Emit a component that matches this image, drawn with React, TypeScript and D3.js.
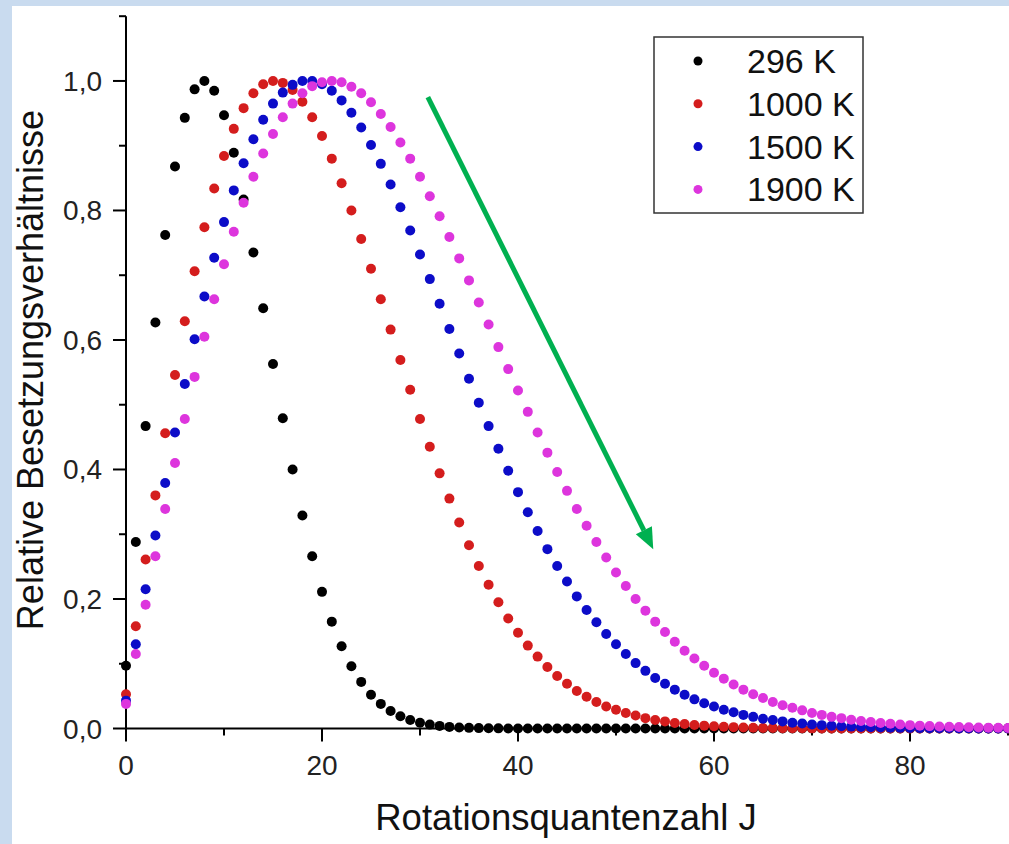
import * as d3 from "d3";
import { useEffect, useRef } from "react";

// Rotationsquantenzahl J = 0 .. 90
const jValues = d3.range(0, 91);

// relative populations, one value per J
const pop296 = [
  0.097, 0.288, 0.467, 0.627, 0.762, 0.868, 0.943, 0.987, 1.0, 0.985,
  0.947, 0.889, 0.817, 0.735, 0.649, 0.563, 0.479, 0.4, 0.329, 0.266,
  0.211, 0.165, 0.127, 0.096, 0.072, 0.052, 0.038, 0.027, 0.019, 0.013,
  0.009, 0.006, 0.004, 0.0025, 0.0016, 0.001, 0.0006, 0.0004, 0.0002, 0.0001,
  0, 0, 0, 0, 0, 0, 0, 0, 0, 0,
  0, 0, 0, 0, 0, 0, 0, 0, 0, 0,
  0, 0, 0, 0, 0, 0, 0, 0, 0, 0,
  0, 0, 0, 0, 0, 0, 0, 0, 0, 0,
  0, 0, 0, 0, 0, 0, 0, 0, 0, 0, 0,
];

const pop1000 = [
  0.053, 0.158, 0.261, 0.36, 0.456, 0.546, 0.629, 0.706, 0.774, 0.834,
  0.884, 0.926, 0.958, 0.981, 0.995, 1.0, 0.997, 0.986, 0.968, 0.944,
  0.915, 0.88, 0.842, 0.8, 0.756, 0.71, 0.663, 0.616, 0.569, 0.523,
  0.478, 0.435, 0.394, 0.355, 0.318, 0.283, 0.251, 0.222, 0.195, 0.17,
  0.148, 0.128, 0.111, 0.095, 0.081, 0.069, 0.058, 0.049, 0.041, 0.034,
  0.029, 0.024, 0.02, 0.016, 0.013, 0.011, 0.0086, 0.0069, 0.0055, 0.0044,
  0.0035, 0.0027, 0.0021, 0.0016, 0.0012, 0.0009, 0.0007, 0.0005, 0.0004, 0.0003,
  0.0002, 0.0001, 0.0001, 0, 0, 0, 0, 0, 0, 0,
  0, 0, 0, 0, 0, 0, 0, 0, 0, 0, 0,
];

const pop1500 = [
  0.043, 0.13, 0.215, 0.298, 0.379, 0.457, 0.532, 0.601, 0.667, 0.727,
  0.782, 0.831, 0.873, 0.91, 0.94, 0.965, 0.982, 0.994, 1.0, 1.0,
  0.995, 0.985, 0.97, 0.951, 0.928, 0.901, 0.872, 0.84, 0.805, 0.769,
  0.732, 0.694, 0.656, 0.617, 0.579, 0.54, 0.503, 0.467, 0.432, 0.398,
  0.365, 0.334, 0.305, 0.277, 0.251, 0.227, 0.204, 0.183, 0.164, 0.146,
  0.13, 0.115, 0.101, 0.089, 0.078, 0.069, 0.06, 0.052, 0.045, 0.039,
  0.034, 0.029, 0.025, 0.021, 0.018, 0.015, 0.013, 0.011, 0.009, 0.0076,
  0.0063, 0.0052, 0.0043, 0.0035, 0.0029, 0.0024, 0.0019, 0.0015, 0.0012, 0.001,
  0.0008, 0.0006, 0.0005, 0.0004, 0.0003, 0.0002, 0.0002, 0.0001, 0.0001, 0.0001, 0.0001,
];

const pop1900 = [
  0.038, 0.115, 0.191, 0.266, 0.339, 0.41, 0.478, 0.543, 0.605, 0.663,
  0.717, 0.767, 0.812, 0.852, 0.888, 0.918, 0.944, 0.965, 0.981, 0.992,
  0.998, 1.0, 0.998, 0.991, 0.981, 0.967, 0.949, 0.929, 0.905, 0.88,
  0.852, 0.822, 0.791, 0.759, 0.726, 0.692, 0.658, 0.624, 0.589, 0.555,
  0.522, 0.489, 0.457, 0.426, 0.396, 0.367, 0.339, 0.313, 0.288, 0.264,
  0.241, 0.22, 0.2, 0.182, 0.165, 0.149, 0.134, 0.12, 0.108, 0.097,
  0.086, 0.077, 0.068, 0.06, 0.053, 0.047, 0.041, 0.036, 0.032, 0.028,
  0.024, 0.021, 0.018, 0.016, 0.0135, 0.0116, 0.0099, 0.0085, 0.0072, 0.0061,
  0.0052, 0.0044, 0.0037, 0.0031, 0.0026, 0.0022, 0.0018, 0.0015, 0.0013, 0.0011, 0.0009,
];

const seriesNames = ["296 K", "1000 K", "1500 K", "1900 K"];
const seriesValues = [pop296, pop1000, pop1500, pop1900];
const seriesColors = ["#000000", "#d41d1d", "#0c0cc8", "#dd35dd"];

const xTicks = [0, 20, 40, 60, 80];
const xTickLabels = ["0", "20", "40", "60", "80"];
const xMinorTicks = [10, 30, 50, 70, 90];
const yTicks = [0, 0.2, 0.4, 0.6, 0.8, 1.0];
const yTickLabels = ["0,0", "0,2", "0,4", "0,6", "0,8", "1,0"];
const yMinorTicks = [0.1, 0.3, 0.5, 0.7, 0.9, 1.1];

// green arrow, in data units (J, value)
const arrowFrom = [30.8, 0.975];
const arrowTo = [53.8, 0.277];

const width = 1009;
const height = 844;
const font = "'Liberation Sans', Arial, sans-serif";

export default function App() {
  const svgRef = useRef<SVGSVGElement>(null);

  useEffect(() => {
    const svg = d3.select(svgRef.current);
    svg.selectAll("*").remove();

    const xScale = d3.scaleLinear().domain([0, 90]).range([126, 1008]);
    const yScale = d3.scaleLinear().domain([0, 1.1]).range([728.5, 16.2]);

    // light blue frame
    svg.append("rect").attr("width", width).attr("height", height).attr("fill", "#c9dbef");
    svg.append("rect").attr("x", 12).attr("y", 6).attr("width", width - 12).attr("height", height - 6).attr("fill", "#ffffff");

    // axes
    const axes = svg.append("g").attr("stroke", "#000").attr("stroke-width", 2);
    axes.append("line").attr("x1", xScale(0)).attr("x2", xScale(0)).attr("y1", yScale(0) + 1).attr("y2", yScale(1.1));
    axes.append("line").attr("x1", xScale(0) - 1).attr("x2", width).attr("y1", yScale(0)).attr("y2", yScale(0));

    axes.selectAll(".yMajor").data(yTicks).enter().append("line")
      .attr("x1", xScale(0) - 13).attr("x2", xScale(0))
      .attr("y1", (d) => yScale(d)).attr("y2", (d) => yScale(d));
    axes.selectAll(".yMinor").data(yMinorTicks).enter().append("line")
      .attr("x1", xScale(0) - 7).attr("x2", xScale(0))
      .attr("y1", (d) => yScale(d)).attr("y2", (d) => yScale(d));
    axes.selectAll(".xMajor").data(xTicks).enter().append("line")
      .attr("x1", (d) => xScale(d)).attr("x2", (d) => xScale(d))
      .attr("y1", yScale(0)).attr("y2", yScale(0) + 13);
    axes.selectAll(".xMinor").data(xMinorTicks).enter().append("line")
      .attr("x1", (d) => xScale(d)).attr("x2", (d) => xScale(d))
      .attr("y1", yScale(0)).attr("y2", yScale(0) + 7);

    svg.selectAll(".yLabel").data(yTicks).enter().append("text")
      .attr("x", 102).attr("y", (d) => yScale(d) + 10)
      .attr("text-anchor", "end").attr("font-family", font).attr("font-size", 28).attr("fill", "#222")
      .text((d, i) => yTickLabels[i]);
    svg.selectAll(".xLabel").data(xTicks).enter().append("text")
      .attr("x", (d) => xScale(d)).attr("y", 775)
      .attr("text-anchor", "middle").attr("font-family", font).attr("font-size", 28).attr("fill", "#222")
      .text((d, i) => xTickLabels[i]);

    svg.append("text")
      .attr("x", 566).attr("y", 830)
      .attr("text-anchor", "middle").attr("font-family", font).attr("font-size", 36.5).attr("fill", "#111")
      .text("Rotationsquantenzahl J");
    svg.append("text")
      .attr("transform", "translate(43,370) rotate(-90)")
      .attr("text-anchor", "middle").attr("font-family", font).attr("font-size", 36).attr("fill", "#111")
      .text("Relative Besetzungsverhältnisse");

    // dots
    seriesValues.forEach((vals, s) => {
      svg.append("g").selectAll("circle").data(jValues).enter().append("circle")
        .attr("cx", (j) => xScale(j))
        .attr("cy", (j) => yScale(vals[j]))
        .attr("r", 5)
        .attr("fill", seriesColors[s]);
    });

    // arrow
    const ax1 = xScale(arrowFrom[0]);
    const ay1 = yScale(arrowFrom[1]);
    const ax2 = xScale(arrowTo[0]);
    const ay2 = yScale(arrowTo[1]);
    const ang = Math.atan2(ay2 - ay1, ax2 - ax1);
    const headLen = 21;
    const headHalf = 9;
    const bx = ax2 - headLen * Math.cos(ang);
    const by = ay2 - headLen * Math.sin(ang);
    svg.append("line")
      .attr("x1", ax1).attr("y1", ay1).attr("x2", bx).attr("y2", by)
      .attr("stroke", "#00b050").attr("stroke-width", 5);
    svg.append("path")
      .attr("d", `M${ax2},${ay2} L${bx + headHalf * Math.sin(ang)},${by - headHalf * Math.cos(ang)} L${bx - headHalf * Math.sin(ang)},${by + headHalf * Math.cos(ang)} Z`)
      .attr("fill", "#00b050");

    // legend
    const legend = svg.append("g");
    legend.append("rect")
      .attr("x", 654).attr("y", 37).attr("width", 209).attr("height", 176)
      .attr("fill", "#fff").attr("stroke", "#333").attr("stroke-width", 1.5);
    const rows = legend.selectAll(".row").data(seriesNames).enter().append("g")
      .attr("transform", (d, i) => `translate(0,${61 + i * 42.8})`);
    rows.append("circle").attr("cx", 698).attr("cy", 0).attr("r", 4.5)
      .attr("fill", (d, i) => seriesColors[i]);
    rows.append("text").attr("x", 747).attr("y", 12)
      .attr("font-family", font).attr("font-size", 34).attr("fill", "#111")
      .text((d) => d);
  }, []);

  return (
    <svg
      ref={svgRef}
      width={width}
      height={height}
      style={{ position: "absolute", left: 0, top: 0 }}
    ></svg>
  );
}
